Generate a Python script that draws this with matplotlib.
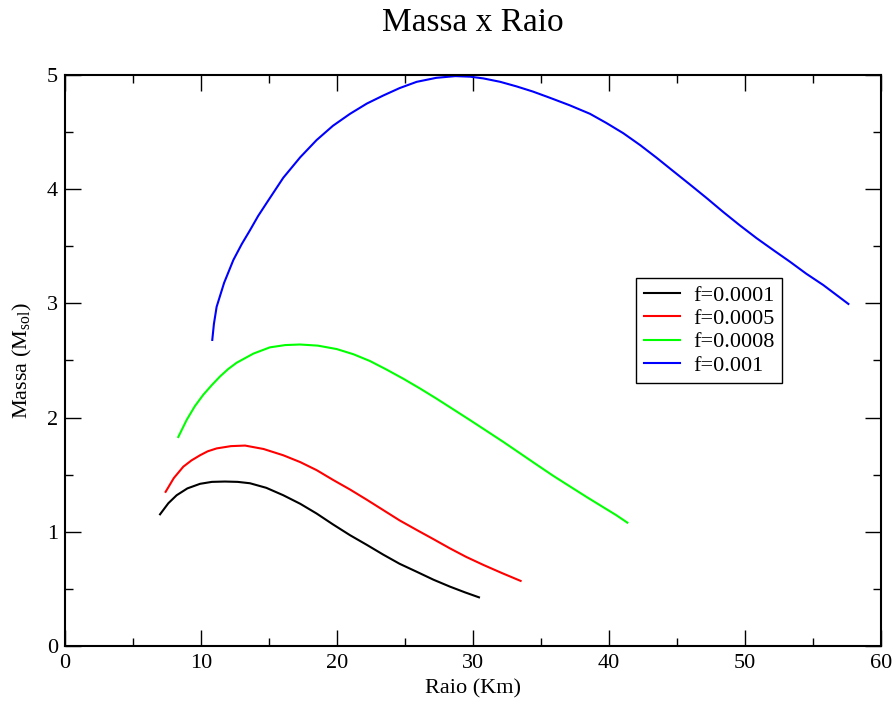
import numpy as np
import matplotlib
matplotlib.use("Agg")
import matplotlib.pyplot as plt

plt.rcParams['font.family'] = ['Liberation Serif', 'DejaVu Serif']
plt.rcParams['mathtext.fontset'] = 'custom'
plt.rcParams['mathtext.rm'] = 'Liberation Serif'

# raio (km), massa (M_sol)
r_0001 = [6.99, 7.6, 8.21, 9.0, 9.93, 10.8, 11.76, 12.7, 13.6, 14.8, 16.05, 17.3, 18.5, 19.7,
          20.96, 22.2, 23.4, 24.6, 25.86, 27.1, 28.3, 29.4, 30.44]
m_0001 = [1.153, 1.25, 1.32, 1.38, 1.42, 1.437, 1.44, 1.437, 1.425, 1.385, 1.32, 1.245, 1.16, 1.065,
          0.97, 0.885, 0.80, 0.72, 0.65, 0.58, 0.52, 0.47, 0.426]

r_0005 = [7.40, 8.0, 8.70, 9.3, 9.93, 10.5, 11.15, 12.2, 13.24, 14.6, 16.05, 17.3, 18.5, 19.7,
          20.96, 22.2, 23.4, 24.6, 25.86, 27.1, 28.3, 29.5, 30.76, 32.1, 33.5]
m_0005 = [1.35, 1.47, 1.57, 1.625, 1.67, 1.705, 1.73, 1.75, 1.755, 1.725, 1.67, 1.61, 1.54, 1.455,
          1.37, 1.28, 1.19, 1.10, 1.016, 0.935, 0.855, 0.78, 0.71, 0.64, 0.57]

r_0008 = [8.33, 8.95, 9.55, 10.17, 10.8, 11.4, 12.0, 12.62, 13.85, 15.07, 16.2, 17.28, 18.6, 19.98, 21.2,
          22.43, 23.65, 24.88, 26.1, 27.33, 28.55, 29.78, 31.0, 32.23, 33.45, 34.68, 35.9,
          37.13, 38.35, 39.58, 40.5, 41.35]
m_0008 = [1.83, 1.98, 2.10, 2.20, 2.285, 2.36, 2.425, 2.48, 2.56, 2.615, 2.635, 2.64, 2.63, 2.60, 2.555,
          2.495, 2.42, 2.34, 2.255, 2.165, 2.072, 1.978, 1.883, 1.787, 1.688, 1.588, 1.49,
          1.397, 1.305, 1.215, 1.148, 1.08]

r_001 = [10.83, 10.95, 11.15, 11.7, 12.38, 13.0, 13.6, 14.2, 14.83, 16.05, 17.3, 18.5, 19.7, 20.96, 22.2,
         23.4, 24.6, 25.86, 27.3, 28.7, 29.8, 30.76, 32.0, 33.2, 34.4, 35.66, 37.1, 38.6, 39.8,
         41.05, 42.3, 43.5, 44.7, 45.96, 47.2, 48.4, 49.6, 50.86, 52.1, 53.3, 54.5, 55.76, 57.6]
m_001 = [2.68, 2.82, 2.97, 3.18, 3.38, 3.52, 3.64, 3.765, 3.88, 4.10, 4.28, 4.43, 4.555, 4.66, 4.75,
         4.82, 4.885, 4.94, 4.975, 4.99, 4.985, 4.97, 4.94, 4.90, 4.855, 4.80, 4.735, 4.66, 4.58,
         4.49, 4.385, 4.275, 4.16, 4.04, 3.92, 3.80, 3.685, 3.57, 3.465, 3.365, 3.26, 3.16, 2.995]

labels = ['f=0.0001', 'f=0.0005', 'f=0.0008', 'f=0.001']
colors = ['#000000', '#ff0000', '#00ff00', '#0000ff']

fig = plt.figure(figsize=(8.95, 7.04), dpi=100)
ax = fig.add_axes([0.0726, 0.0824, 0.9118, 0.8111])

for r, m, lab, c in zip([r_0001, r_0005, r_0008, r_001], [m_0001, m_0005, m_0008, m_001], labels, colors):
    ax.plot(r, m, color=c, linewidth=1.5, label=lab, solid_joinstyle='round')

ax.set_xlim(0, 60)
ax.set_ylim(0, 5)
ax.set_xticks(np.arange(0, 61, 10))
ax.set_xticks(np.arange(0, 61, 5), minor=True)
ax.set_yticks(np.arange(0, 6, 1))
ax.set_yticks(np.arange(0, 5.1, 0.5), minor=True)
ax.tick_params(which='both', direction='in', top=True, right=True, labelsize=16, width=1.0)
ax.tick_params(which='major', length=11.5)
ax.tick_params(which='minor', length=5.5)
ax.tick_params(axis='x', pad=6)
ax.tick_params(axis='y', pad=5)
for s in ax.spines.values():
    s.set_linewidth(1.5)

ax.set_title('Massa x Raio', fontsize=24, pad=32)
ax.set_xlabel('Raio (Km)', fontsize=16, labelpad=4)
ax.set_ylabel(r'Massa (M$_{\mathrm{sol}}$)', fontsize=16, labelpad=9)

leg = ax.legend(loc='upper left', bbox_to_anchor=(0.70, 0.645), borderaxespad=0, fontsize=16,
                fancybox=False, edgecolor='black', framealpha=1, handlelength=1.6,
                handletextpad=0.6, labelspacing=0.12, borderpad=0.35)
leg.get_frame().set_linewidth(1.0)

plt.savefig('out.png', dpi=100)
